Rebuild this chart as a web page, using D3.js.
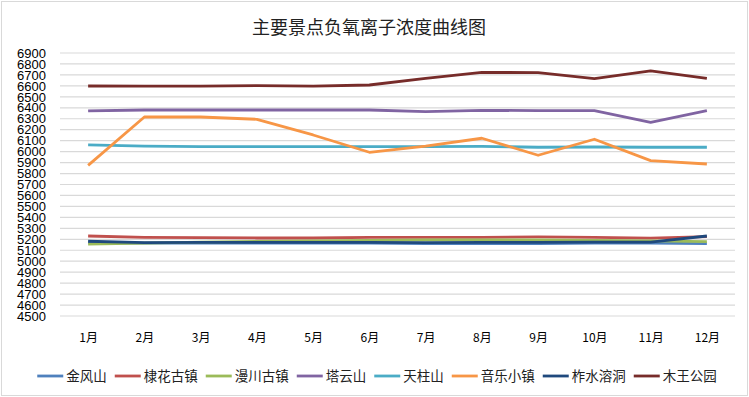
<!DOCTYPE html>
<html>
<head>
<meta charset="utf-8">
<script src="https://cdn.jsdelivr.net/npm/d3@7"></script>
<style>
  body { margin: 0; background: #fff; }
</style>
</head>
<body>
<div id="chart"></div>
<script>
const months = ["1月", "2月", "3月", "4月", "5月", "6月", "7月", "8月", "9月", "10月", "11月", "12月"];
const seriesNames = ["金风山", "棣花古镇", "漫川古镇", "塔云山", "天柱山", "音乐小镇", "柞水溶洞", "木王公园"];
const seriesColors = ["#4F81BD", "#C0504D", "#9BBB59", "#8064A2", "#4BACC6", "#F79646", "#1F497D", "#772C2A"];

const jinfengshan = [5170, 5165, 5165, 5165, 5165, 5165, 5160, 5160, 5160, 5165, 5165, 5160];
const dihuaguzhen = [5230, 5218, 5215, 5212, 5212, 5218, 5218, 5218, 5222, 5218, 5210, 5225];
const manchuanguzhen = [5155, 5165, 5175, 5180, 5185, 5190, 5195, 5195, 5195, 5190, 5185, 5178];
const tayunshan = [6371, 6380, 6380, 6380, 6380, 6380, 6365, 6377, 6374, 6374, 6268, 6374];
const tianzhushan = [6061, 6051, 6045, 6045, 6045, 6045, 6045, 6048, 6040, 6042, 6040, 6040];
const yinlexiaozhen = [5875, 6316, 6316, 6295, 6152, 5994, 6051, 6122, 5967, 6113, 5918, 5887];
const zhashuirongdong = [5182, 5170, 5172, 5172, 5172, 5172, 5170, 5172, 5172, 5175, 5175, 5230];
const muwanggongyuan = [6599, 6598, 6598, 6602, 6598, 6608, 6668, 6724, 6720, 6666, 6736, 6669];

const yTicks = d3.range(4500, 6901, 100);

const seriesValues = [jinfengshan, dihuaguzhen, manchuanguzhen, tayunshan, tianzhushan, yinlexiaozhen, zhashuirongdong, muwanggongyuan];

const width = 749, height = 397;
const margin = { top: 53, right: 14, bottom: 81, left: 60 };

const svg = d3.select("#chart").append("svg")
  .attr("width", width)
  .attr("height", height);

svg.append("rect")
  .attr("x", 1.5).attr("y", 1.5)
  .attr("width", width - 3).attr("height", height - 3)
  .attr("fill", "#fff")
  .attr("stroke", "#d9d9d9");

const x = d3.scalePoint()
  .domain(months)
  .range([margin.left, width - margin.right])
  .padding(0.5);

const y = d3.scaleLinear()
  .domain([4500, 6900])
  .range([height - margin.bottom, margin.top]);

// title
svg.append("text")
  .attr("x", 369)
  .attr("y", 34)
  .attr("text-anchor", "middle")
  .style("font-family", "'Noto Sans CJK SC'")
  .style("font-size", "18px")
  .attr("fill", "#222")
  .text("主要景点负氧离子浓度曲线图");

// grid
svg.append("g")
  .selectAll("line")
  .data(yTicks)
  .join("line")
  .attr("x1", margin.left)
  .attr("x2", width - margin.right)
  .attr("y1", d => y(d))
  .attr("y2", d => y(d))
  .attr("stroke", "#d9d9d9")
  .attr("stroke-width", 1.2);

// y axis
const yAxis = svg.append("g")
  .attr("transform", `translate(${margin.left},0)`)
  .call(d3.axisLeft(y).tickValues(yTicks).tickSize(0).tickPadding(14).tickFormat(d3.format("d")));
yAxis.select(".domain").remove();
yAxis.selectAll("text")
  .style("font-family", "'Liberation Sans'")
  .style("font-size", "13px")
  .attr("fill", "#000");

// x axis
const xAxis = svg.append("g")
  .attr("transform", `translate(0,${height - margin.bottom})`)
  .call(d3.axisBottom(x).tickSize(0).tickPadding(17));
xAxis.select(".domain").remove();
xAxis.selectAll("text")
  .style("font-family", "'Noto Sans CJK SC'")
  .style("font-size", "12px")
  .attr("fill", "#000");

// lines
const line = d3.line()
  .x((d, i) => x(months[i]))
  .y(d => y(d));

svg.append("g")
  .selectAll("path")
  .data(seriesValues)
  .join("path")
  .attr("d", d => line(d))
  .attr("fill", "none")
  .attr("stroke", (d, i) => seriesColors[i])
  .attr("stroke-width", 2.8)
  .attr("stroke-linejoin", "round");

// legend
const legend = svg.append("g");
const items = legend.selectAll("g")
  .data(seriesNames)
  .join("g");

items.append("line")
  .attr("x1", 0).attr("x2", 26)
  .attr("y1", 0).attr("y2", 0)
  .attr("stroke", (d, i) => seriesColors[i])
  .attr("stroke-width", 2.8);

items.append("text")
  .attr("x", 29)
  .attr("y", 5)
  .style("font-family", "'Noto Sans CJK SC'")
  .style("font-size", "13.5px")
  .attr("fill", "#222")
  .text(d => d);

let offset = 0;
const offsets = [];
items.each(function () {
  offsets.push(offset);
  offset += this.getBBox().width + 8;
});
const total = offset - 8;
const startX = 377 - total / 2;
items.attr("transform", (d, i) => `translate(${startX + offsets[i]},376)`);
</script>
</body>
</html>
